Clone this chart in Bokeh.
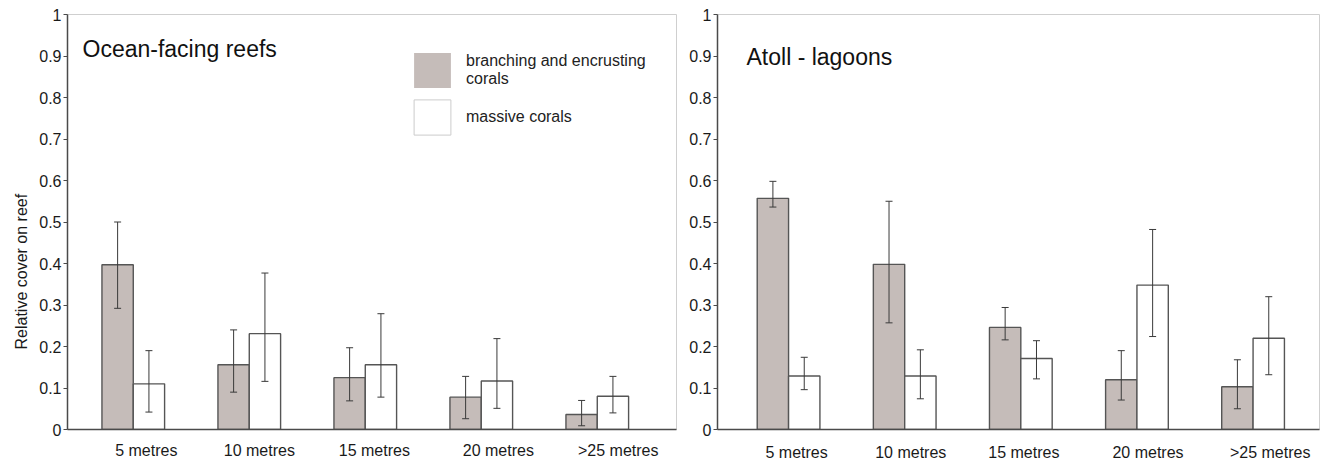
from bokeh.plotting import figure
from bokeh.layouts import row
from bokeh.models import (ColumnDataSource, FixedTicker, NumeralTickFormatter, Range1d,
                          Whisker, TeeHead, Label, Legend, LegendItem, Title)
from bokeh.embed import file_html
from bokeh.resources import INLINE

# ---------------- data ----------------
depths = ["5 metres", "10 metres", "15 metres", "20 metres", ">25 metres"]
y_ticks = [0, 0.1, 0.2, 0.3, 0.4, 0.5, 0.6, 0.7, 0.8, 0.9, 1]

branch_ocean = [0.397, 0.156, 0.125, 0.078, 0.036]
branch_ocean_lo = [0.292, 0.090, 0.069, 0.026, 0.009]
branch_ocean_hi = [0.500, 0.240, 0.197, 0.128, 0.070]
massive_ocean = [0.110, 0.231, 0.156, 0.117, 0.080]
massive_ocean_lo = [0.042, 0.116, 0.078, 0.051, 0.040]
massive_ocean_hi = [0.190, 0.377, 0.279, 0.219, 0.128]

branch_atoll = [0.557, 0.398, 0.246, 0.120, 0.103]
branch_atoll_lo = [0.536, 0.257, 0.216, 0.071, 0.050]
branch_atoll_hi = [0.598, 0.550, 0.294, 0.190, 0.168]
massive_atoll = [0.129, 0.129, 0.171, 0.348, 0.220]
massive_atoll_lo = [0.096, 0.074, 0.122, 0.224, 0.132]
massive_atoll_hi = [0.174, 0.192, 0.214, 0.482, 0.320]

# ---------------- styling / layout ----------------
FONT = "Liberation Sans"
BROWN = "#c5bcb9"
BAR_LINE = "#555555"
ERR_LINE = "#3a3a3a"
AXIS_LINE = "#4a4a4a"
BAR_W = 0.27
left_label_shift = [0.112, 0.087, 0.078, 0.147, 0.181]
right_label_shift = [0.069, 0.052, 0.026, 0.095, 0.147]


def make_panel(title, branch, b_lo, b_hi, massive, m_lo, m_hi, x_range, label_shift,
               width, height, border_left, border_right, border_top, border_bottom,
               title_pos, x_standoff):
    p = figure(width=width, height=height, output_backend="svg", toolbar_location=None,
               x_range=Range1d(*x_range), y_range=Range1d(0, 1),
               min_border_left=border_left, min_border_right=border_right,
               min_border_top=border_top, min_border_bottom=border_bottom)
    p.xgrid.visible = False
    p.ygrid.visible = False
    p.outline_line_color = "#cfcfcf"
    p.outline_line_width = 1
    p.background_fill_color = "white"
    p.border_fill_color = "white"

    groups = list(range(1, len(depths) + 1))
    src = ColumnDataSource(dict(
        xb=[g - BAR_W / 2 for g in groups],
        xm=[g + BAR_W / 2 for g in groups],
        branch=branch, b_lo=b_lo, b_hi=b_hi,
        massive=massive, m_lo=m_lo, m_hi=m_hi))

    p.vbar(x="xb", top="branch", bottom=0, width=BAR_W, source=src,
           fill_color=BROWN, line_color=BAR_LINE, line_width=1.4)
    p.vbar(x="xm", top="massive", bottom=0, width=BAR_W, source=src,
           fill_color="white", line_color=BAR_LINE, line_width=1.4)

    for base, lo, hi in (("xb", "b_lo", "b_hi"), ("xm", "m_lo", "m_hi")):
        w = Whisker(base=base, lower=lo, upper=hi, source=src, dimension="height",
                    line_color=ERR_LINE, line_width=1, level="overlay",
                    upper_head=TeeHead(size=7, line_color=ERR_LINE, line_width=1),
                    lower_head=TeeHead(size=7, line_color=ERR_LINE, line_width=1))
        p.add_layout(w)

    # x axis
    ticks = [g + s for g, s in zip(groups, label_shift)]
    p.xaxis.ticker = FixedTicker(ticks=ticks)
    p.xaxis.major_label_overrides = {t: d for t, d in zip(ticks, depths)}
    p.xaxis.major_tick_out = 0
    p.xaxis.major_tick_in = 0
    p.xaxis.minor_tick_line_color = None
    p.xaxis.major_label_standoff = x_standoff
    p.xaxis.major_label_text_font = FONT
    p.xaxis.major_label_text_font_size = "16px"
    p.xaxis.major_label_text_color = "#1a1a1a"
    p.xaxis.axis_line_color = AXIS_LINE
    p.xaxis.axis_line_width = 1.5

    # y axis
    p.yaxis.ticker = FixedTicker(ticks=y_ticks)
    p.yaxis.formatter = NumeralTickFormatter(format="0.[0]")
    p.yaxis.major_tick_out = 4
    p.yaxis.major_tick_in = 0
    p.yaxis.minor_tick_line_color = None
    p.yaxis.major_tick_line_color = AXIS_LINE
    p.yaxis.major_label_standoff = 2
    p.yaxis.major_label_text_font = FONT
    p.yaxis.major_label_text_font_size = "16px"
    p.yaxis.major_label_text_color = "#1a1a1a"
    p.yaxis.axis_line_color = AXIS_LINE
    p.yaxis.axis_line_width = 1.5

    p.add_layout(Label(x=title_pos[0], y=title_pos[1], x_units="screen", y_units="screen",
                       text=title, text_font=FONT, text_font_size="23px",
                       text_color="#111111", text_baseline="alphabetic"))
    return p


left = make_panel("Ocean-facing reefs", branch_ocean, branch_ocean_lo, branch_ocean_hi,
                  massive_ocean, massive_ocean_lo, massive_ocean_hi,
                  x_range=(0.433, 5.683), label_shift=left_label_shift,
                  width=680, height=465, border_left=67, border_right=4,
                  border_top=14, border_bottom=34, title_pos=(15, 381), x_standoff=12)

right = make_panel("Atoll - lagoons", branch_atoll, branch_atoll_lo, branch_atoll_hi,
                   massive_atoll, massive_atoll_lo, massive_atoll_hi,
                   x_range=(0.388, 5.572), label_shift=right_label_shift,
                   width=640, height=465, border_left=37, border_right=1,
                   border_top=12, border_bottom=36, title_pos=(29, 373), x_standoff=14)

# y axis title, set beside the left axis (lower than the frame centre, as in the source)
left.add_layout(Title(text="Relative cover on reef", align="left", offset=80, standoff=13,
                      text_font=FONT, text_font_size="16px", text_font_style="normal",
                      text_color="#1a1a1a"), "left")

# legend (swatch renderers that draw nothing in the plot area)
nan = float("nan")
sw_branch = left.vbar(x=[nan], top=[nan], width=0.1, fill_color=BROWN, line_color=None)
sw_massive = left.vbar(x=[nan], top=[nan], width=0.1, fill_color="white",
                       line_color="#cccccc", line_width=1)
legend = Legend(items=[LegendItem(label="branching and encrusting\ncorals", renderers=[sw_branch]),
                       LegendItem(label="massive corals", renderers=[sw_massive])],
                location=(342, 290), glyph_width=46, glyph_height=44, spacing=3,
                label_standoff=11, padding=0, margin=0, border_line_color=None,
                background_fill_alpha=0, label_text_font=FONT,
                label_text_line_height=1.0,
                label_text_font_size="16px", label_text_color="#222222")
left.add_layout(legend)

layout = row(left, right, spacing=0)
open("out.html", "w").write(file_html(layout, INLINE))
